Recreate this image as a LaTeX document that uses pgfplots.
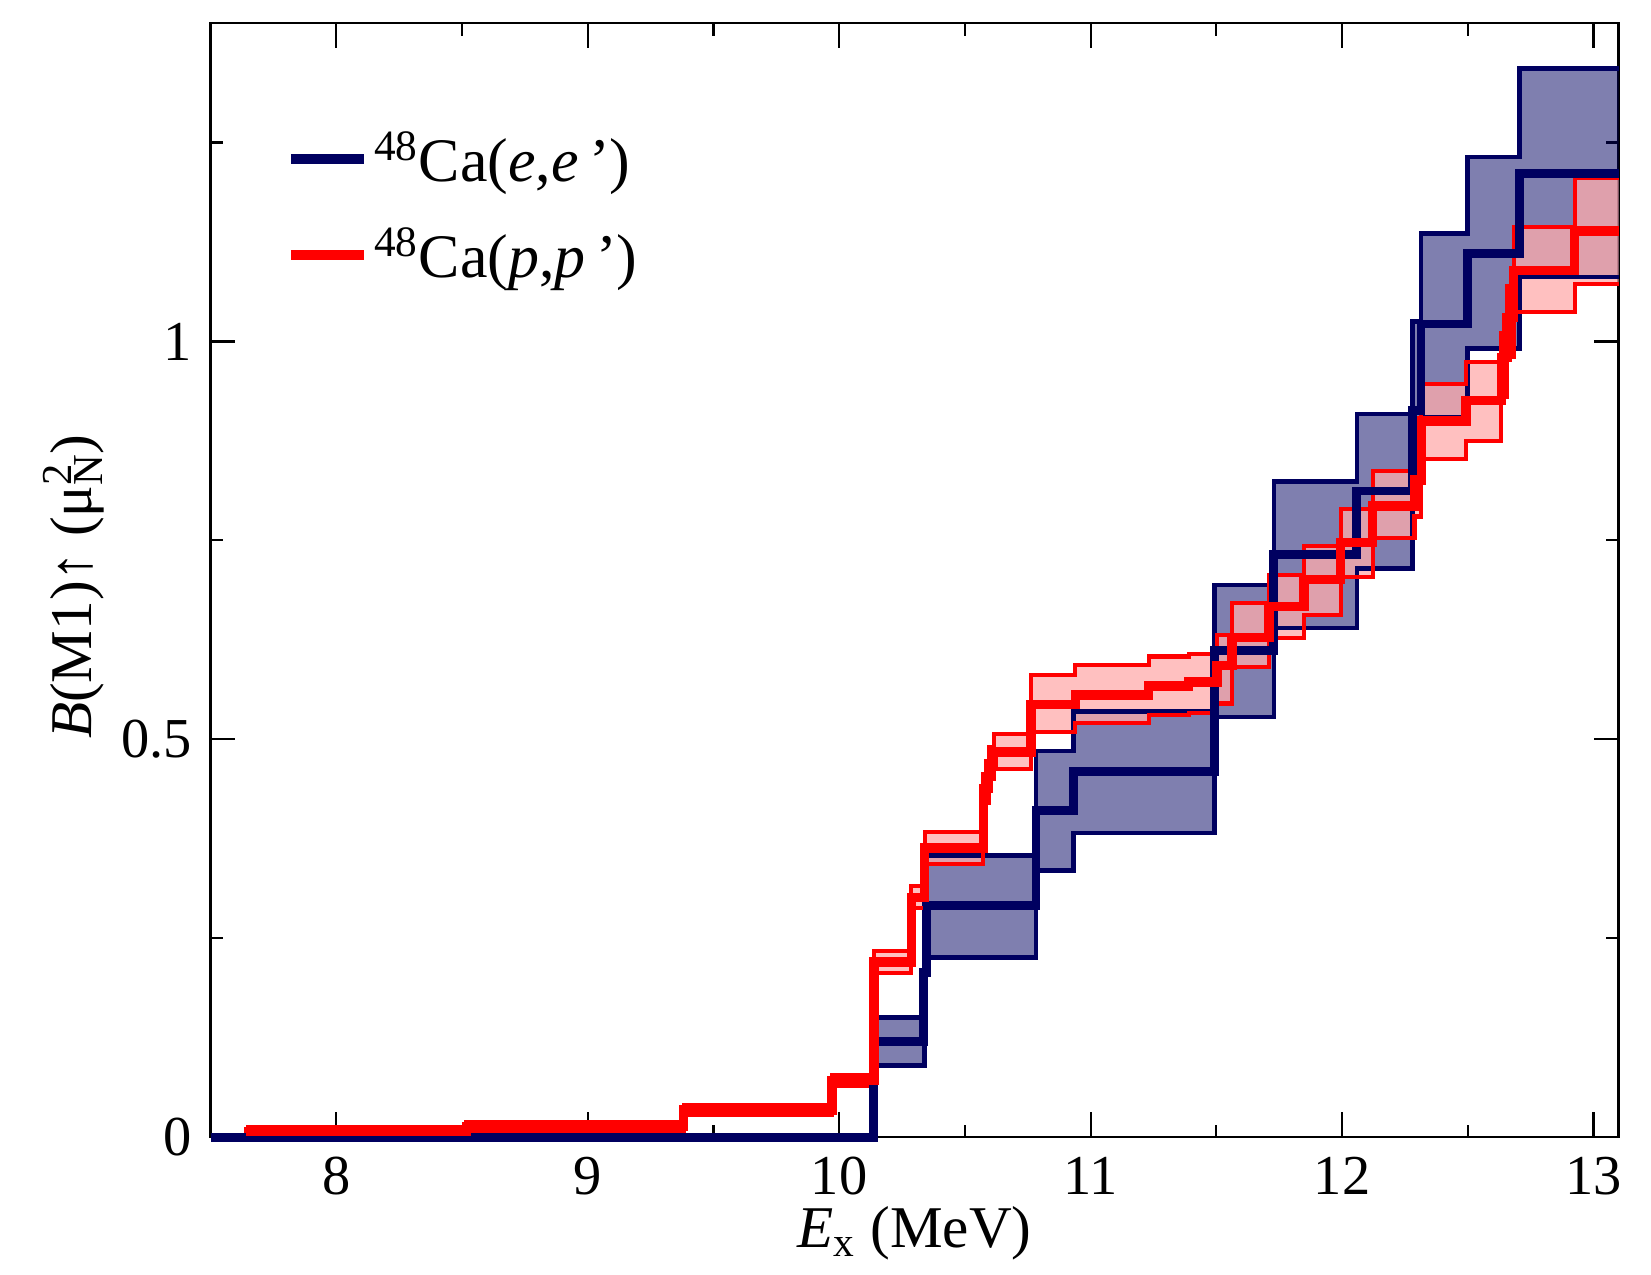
\documentclass[border=0pt]{standalone}
\usepackage{fontspec}
\setmainfont{Liberation Serif}
\usepackage{pgfplots}
\pgfplotsset{compat=1.18}
\usepackage{pgfplotstable}
\usepgfplotslibrary{fillbetween}
\definecolor{navyc}{RGB}{0,0,96}
\definecolor{pinkf}{RGB}{255,171,171}

\pgfplotstableread{
x c
7.5 0
10.138 0.120
10.334 0.207
10.349 0.2906
10.783 0.4105
10.932 0.460
11.493 0.612
11.729 0.732
12.059 0.812
12.281 0.913
12.314 1.022
12.500 1.111
12.706 1.211
13.1 1.211
}\bcen

\pgfplotstableread{
x lo hi
10.138 0.090 0.150
10.340 0.2255 0.3537
10.783 0.3348 0.4854
10.932 0.3823 0.5345
11.493 0.528 0.694
11.729 0.640 0.824
12.059 0.715 0.909
12.281 0.800 1.025
12.314 0.905 1.136
12.500 0.991 1.232
12.706 1.081 1.343
13.1 1.081 1.343
}\bband

\pgfplotstableread{
x c
7.641 0.007
8.518 0.013
9.382 0.034
9.972 0.071
10.138 0.220
10.287 0.301
10.340 0.3634
10.573 0.438
10.595 0.469
10.615 0.484
10.763 0.544
10.939 0.5556
11.231 0.567
11.390 0.572
11.503 0.593
11.563 0.628
11.709 0.667
11.849 0.7006
11.995 0.747
12.122 0.793
12.288 0.826
12.315 0.900
12.493 0.926
12.633 0.980
12.656 1.030
12.683 1.0895
12.925 1.139
13.1 1.139
}\rcen

\pgfplotstableread{
x lo hi
7.641 0.001 0.013
8.518 0.007 0.019
9.382 0.028 0.040
9.972 0.064 0.078
10.138 0.2066 0.234
10.287 0.2875 0.316
10.340 0.343 0.384
10.573 0.420 0.456
10.595 0.450 0.490
10.615 0.463 0.507
10.763 0.509 0.581
10.939 0.520 0.5934
11.231 0.530 0.604
11.390 0.533 0.607
11.503 0.545 0.631
11.563 0.591 0.671
11.709 0.627 0.707
11.849 0.656 0.7427
11.995 0.7035 0.789
12.122 0.753 0.837
12.288 0.780 0.877
12.315 0.852 0.946
12.493 0.875 0.974
12.633 0.930 1.010
12.656 0.980 1.070
12.683 1.037 1.144
12.925 1.0727 1.206
13.1 1.0727 1.206
}\rband

\begin{document}
\begin{tikzpicture}
\begin{axis}[
  at={(0,0)}, anchor=south west,
  scale only axis, width=511.7pt, height=404.8pt,
  xmin=7.5, xmax=13.1, ymin=0, ymax=1.4,
  xtick={8,9,10,11,12,13},
  minor xtick={8.5,9.5,10.5,11.5,12.5},
  ytick={0,0.5,1},
  minor ytick={0.25,0.75,1.25},
  tick align=inside,
  major tick length=9pt, minor tick length=4.5pt,
  every tick/.style={black, line width=0.8pt},
  axis line style={black, line width=0.9pt},
  /pgf/number format/assume math mode=true,
  ticklabel style={font=\fontsize{20.5}{24}\selectfont},
  xticklabel style={anchor=base, yshift=-21pt},
  yticklabel style={anchor=east, inner sep=0pt, xshift=-6.5pt},
  xlabel={\textit{E}\textsubscript{x} (MeV)},
  ylabel={\textit{B}(M1)↑ (μ\rlap{\raisebox{7pt}{\fontsize{15.5}{15.5}\selectfont 2}}\raisebox{-4pt}{\fontsize{15.5}{15.5}\selectfont N})},
  label style={font=\fontsize{21.5}{26}\selectfont},
  xlabel style={at={(axis description cs:0.5,0)}, anchor=base, yshift=-40.2pt},
  ylabel style={at={(axis description cs:-0.0972,0.494)}, anchor=center, rotate=0},
  clip=false,
  legend style={at={(axis description cs:0.0531,0.908)}, anchor=north west,
    draw=none, fill=none, font=\fontsize{22.5}{27}\selectfont,
    row sep=11.5pt, inner sep=0pt, legend cell align=left},
  legend image code/.code={\draw[#1] (0pt,0pt) -- (26.5pt,0pt);},
]
% blue band
\addplot[navyc, line width=1.7pt, const plot, name path=bhi, forget plot] table[x=x,y=hi]{\bband};
\addplot[navyc, line width=1.7pt, const plot, name path=blo, forget plot] table[x=x,y=lo]{\bband};
\addplot[fill=navyc, fill opacity=0.5, draw=none, forget plot] fill between[of=bhi and blo];
\addplot[navyc, line width=1.7pt, forget plot] coordinates {(10.138,0.090) (10.138,0.150)};
% red band
\addplot[red, line width=1.5pt, const plot, name path=rhi, forget plot] table[x=x,y=hi]{\rband};
\addplot[red, line width=1.5pt, const plot, name path=rlo, forget plot] table[x=x,y=lo]{\rband};
\addplot[fill=pinkf, fill opacity=0.75, draw=none, forget plot] fill between[of=rhi and rlo];
\addplot[red, line width=1.5pt, forget plot] coordinates {(7.641,0.001) (7.641,0.013)};
% central lines
\addplot[navyc, line width=3.2pt, const plot, forget plot] table[x=x,y=c]{\bcen};
\addplot[red, line width=3.4pt, const plot, forget plot] table[x=x,y=c]{\rcen};
\addlegendimage{navyc, line width=3.6pt}
\addlegendentry{\textsuperscript{48}Ca(\textit{e},\textit{e}\,’)}
\addlegendimage{red, line width=3.6pt}
\addlegendentry{\textsuperscript{48}Ca(\textit{p},\textit{p}\,’)}
\end{axis}
\pgfresetboundingbox
\path[use as bounding box] (-76.53pt,-50.11pt) rectangle (523.47pt,413.24pt);
\end{tikzpicture}
\end{document}
